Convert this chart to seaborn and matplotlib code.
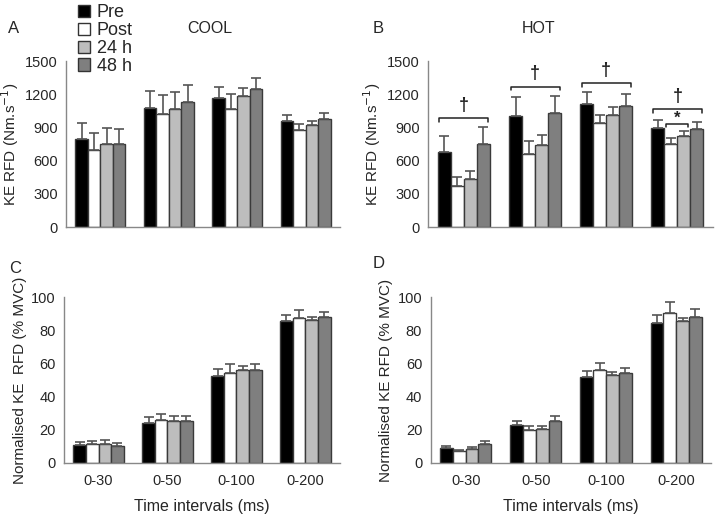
import numpy as np
import pandas as pd
import matplotlib
matplotlib.use("Agg")
import matplotlib.pyplot as plt
from matplotlib.patches import Patch
import seaborn as sns

# categories
intervals = ["0-30", "0-50", "0-100", "0-200"]
sessions = ["Pre", "Post", "24 h", "48 h"]
colours = ["#000000", "#ffffff", "#bdbdbd", "#7f7f7f"]

# A - COOL, KE RFD (Nm.s-1), rows = sessions
cool_rfd = [[800, 1075, 1165, 960],
            [700, 1020, 1070, 875],
            [755, 1070, 1185, 920],
            [750, 1135, 1245, 975]]
cool_rfd_sd = [[145, 160, 105, 50],
               [155, 175, 130, 55],
               [145, 150, 75, 40],
               [140, 155, 100, 55]]

# B - HOT, KE RFD (Nm.s-1)
hot_rfd = [[680, 1005, 1110, 900],
           [375, 665, 940, 755],
           [435, 745, 1010, 820],
           [755, 1035, 1095, 890]]
hot_rfd_sd = [[140, 175, 110, 65],
              [80, 110, 70, 55],
              [70, 90, 75, 50],
              [150, 155, 105, 60]]

# C - COOL, normalised RFD (% MVC)
cool_norm = [[11.1, 24.4, 52.6, 85.9],
             [11.5, 26.2, 54.0, 87.7],
             [11.5, 25.6, 56.0, 86.3],
             [10.5, 25.6, 56.0, 88.3]]
cool_norm_sd = [[1.8, 3.2, 3.9, 3.4],
                [1.8, 3.4, 5.5, 4.4],
                [2.2, 3.0, 2.3, 2.0],
                [1.8, 3.0, 3.9, 2.6]]

# D - HOT, normalised RFD (% MVC)
hot_norm = [[9.0, 22.9, 52.0, 84.5],
            [7.0, 20.1, 56.0, 90.4],
            [8.2, 20.5, 53.0, 85.5],
            [11.6, 25.5, 54.0, 88.0]]
hot_norm_sd = [[1.4, 2.6, 3.4, 4.5],
               [1.0, 2.4, 4.2, 6.4],
               [1.4, 2.0, 1.8, 1.8],
               [1.5, 2.6, 3.4, 4.8]]

# significance brackets in B (Pre..48 h, every interval) and Post..24 h at 0-200
dagger_heights = [985, 1270, 1300, 1065]
star_height = 930

sns.set_style("white")
plt.rcParams['font.family'] = ['Liberation Sans', 'DejaVu Sans']
plt.rcParams['font.size'] = 10.5


def to_long(means, sds):
    rows = []
    for s, sess in enumerate(sessions):
        for i, iv in enumerate(intervals):
            rows.append({"interval": iv, "session": sess,
                         "value": means[s][i], "sd": sds[s][i]})
    return pd.DataFrame(rows)


def draw_panel(ax, means, sds, ymax, yticks, ylabel, bottom_row):
    df = to_long(means, sds)
    sns.barplot(data=df, x="interval", y="value", hue="session",
                order=intervals, hue_order=sessions, palette=colours,
                width=0.73, gap=0, saturation=1, edgecolor="#3a3a3a",
                linewidth=1.0, errorbar=None, legend=False, ax=ax)
    bar_sets = list(ax.containers)
    # one-sided error bars on top of each bar
    for s, cont in enumerate(bar_sets):
        xs = [p.get_x() + p.get_width() / 2 for p in cont.patches]
        ys = [p.get_height() for p in cont.patches]
        ax.errorbar(xs, ys, yerr=[np.zeros(len(ys)), sds[s]], fmt="none",
                    ecolor="#555555", elinewidth=1.2, capsize=3.5, capthick=1.2)
    ax.set_xlim(-0.5, 3.5)
    ax.set_ylim(0, ymax)
    ax.set_yticks(yticks)
    ax.set_xticks(range(len(intervals)))
    ax.set_xticks(np.arange(-0.5, 4.0, 1.0), minor=True)
    ax.tick_params(axis="x", which="major", length=0, pad=8)
    ax.tick_params(axis="x", which="minor", length=4, color="#888888", direction="out")
    ax.tick_params(axis="y", length=3, color="#888888", direction="out", pad=3)
    sns.despine(ax=ax)
    for sp in ["left", "bottom"]:
        ax.spines[sp].set_color("#888888")
        ax.spines[sp].set_linewidth(1.0)
    ax.set_ylabel(ylabel, fontsize=11, labelpad=3)
    if bottom_row:
        ax.set_xlabel("Time intervals (ms)", fontsize=11.5, labelpad=8)
    else:
        ax.set_xticklabels([])
        ax.set_xlabel("")
    return bar_sets


def bracket(ax, x0, x1, y, text, tick, dy, size):
    ax.plot([x0, x0, x1, x1], [y - tick, y, y, y - tick], color="#222222", lw=1.1)
    ax.text((x0 + x1) / 2, y + dy, text, ha="center", va="bottom",
            fontsize=size, fontweight="bold", color="#222222")


fig = plt.figure(figsize=(7.2, 5.15), dpi=100)
axA = fig.add_axes([0.092, 0.559, 0.380, 0.322])
axB = fig.add_axes([0.595, 0.559, 0.395, 0.322])
axC = fig.add_axes([0.089, 0.101, 0.383, 0.322])
axD = fig.add_axes([0.598, 0.101, 0.390, 0.322])

rfd_label = "KE RFD (Nm.s$^{-1}$)"
draw_panel(axA, cool_rfd, cool_rfd_sd, 1500, range(0, 1501, 300), rfd_label, False)
barsB = draw_panel(axB, hot_rfd, hot_rfd_sd, 1500, range(0, 1501, 300), rfd_label, False)
draw_panel(axC, cool_norm, cool_norm_sd, 100, range(0, 101, 20),
           "Normalised KE  RFD (% MVC)", True)
draw_panel(axD, hot_norm, hot_norm_sd, 100, range(0, 101, 20),
           "Normalised KE RFD (% MVC)", True)

# brackets in panel B, positioned from the drawn bars
pre_bars, post_bars, h24_bars, h48_bars = [c.patches for c in barsB]
for i, h in enumerate(dagger_heights):
    x0 = pre_bars[i].get_x() + 0.02
    x1 = h48_bars[i].get_x() + h48_bars[i].get_width() - 0.02
    bracket(axB, x0, x1, h, "\u2020", 30, 40, 13)
x0 = post_bars[3].get_x() + 0.03
x1 = h24_bars[3].get_x() + h24_bars[3].get_width() - 0.03
bracket(axB, x0, x1, star_height, "*", 25, -10, 12)

# titles and panel letters
fig.text(0.292, 0.945, "COOL", ha="center", va="center", fontsize=11.5)
fig.text(0.748, 0.945, "HOT", ha="center", va="center", fontsize=11.5)
fig.text(0.011, 0.945, "A", ha="left", va="center", fontsize=12)
fig.text(0.518, 0.945, "B", ha="left", va="center", fontsize=12)
fig.text(0.013, 0.478, "C", ha="left", va="center", fontsize=12)
fig.text(0.518, 0.488, "D", ha="left", va="center", fontsize=12)

handles = [Patch(facecolor=c, edgecolor="#333333", lw=1.0) for c in colours]
fig.legend(handles, sessions, loc="upper left", bbox_to_anchor=(0.098, 1.006),
           frameon=False, handlelength=0.65, handleheight=0.65,
           handletextpad=0.4, labelspacing=0.05, fontsize=13, borderaxespad=0)

fig.savefig("out.png", dpi=100)
